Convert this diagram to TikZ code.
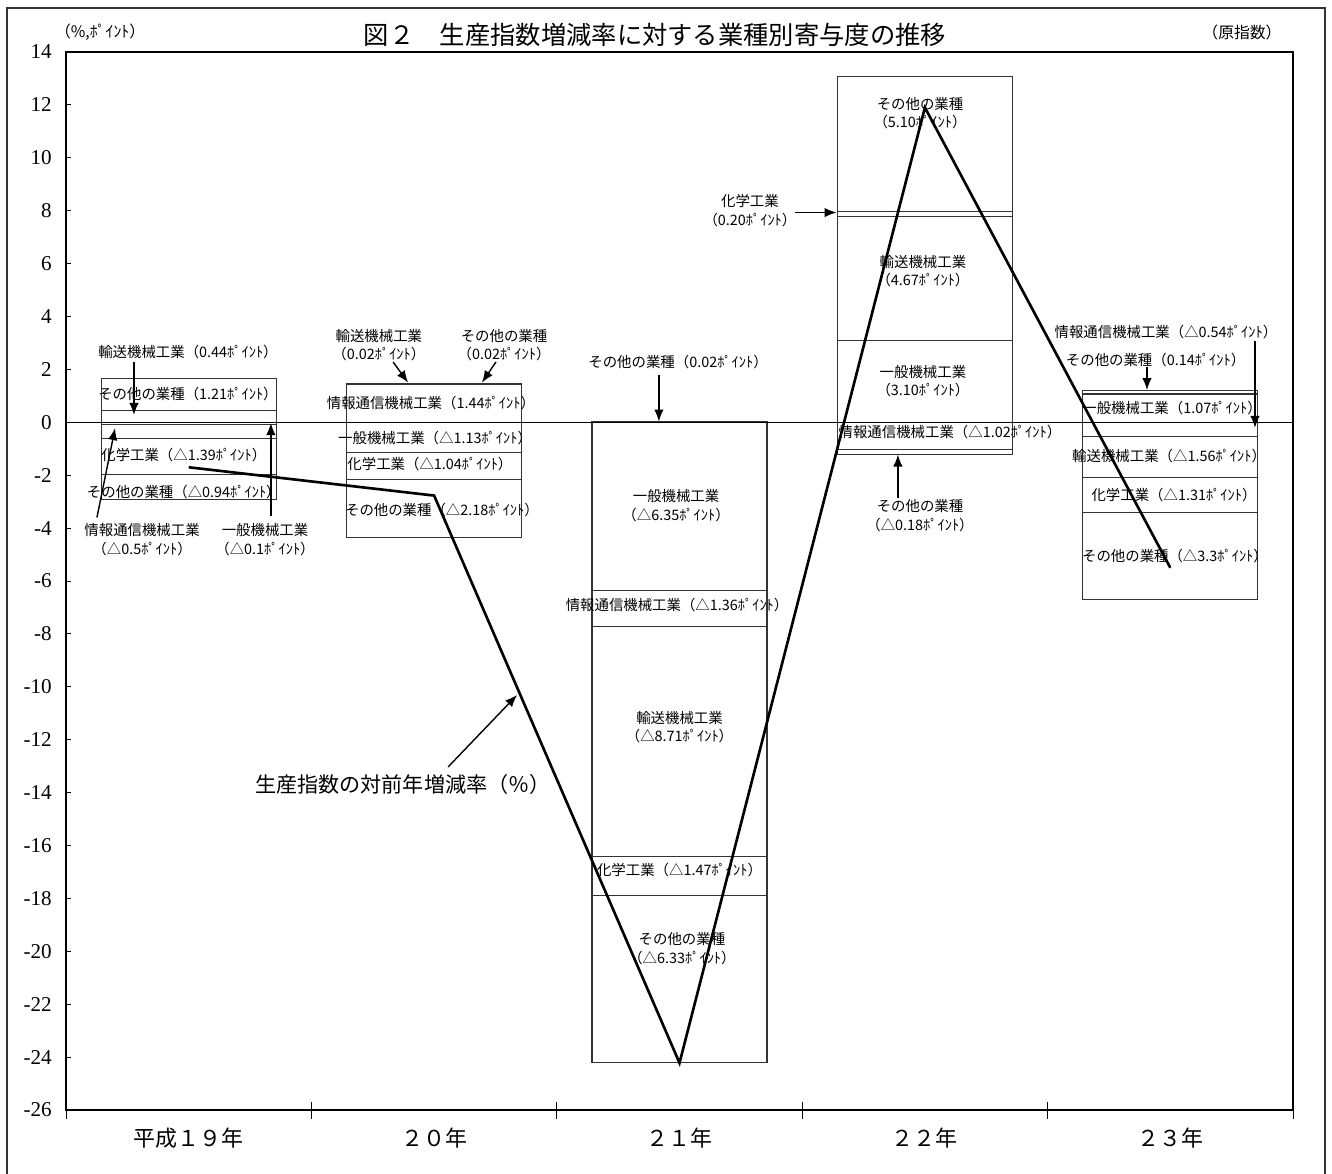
\documentclass[tikz,border=0pt]{standalone}
\usepackage{fontspec}
\setmainfont{Liberation Serif}
\newfontfamily\jp{Noto Sans CJK JP}
\usetikzlibrary{arrows.meta, positioning}

\begin{document}
\begin{tikzpicture}[x=4.908cm, y=0.529cm,
		seg/.style={draw=black!80, fill=white, line width=0.6pt},
		lbl/.style={font=\jp\fontsize{8.2}{10.6}\selectfont, align=center, inner sep=0pt},
		arr/.style={-{Latex[length=2.4mm,width=1.9mm]}, line width=0.8pt},
		series/.style={line width=1.5pt, line join=miter}]
				\useasboundingbox (-0.26895,-28.382) rectangle (5.1589,15.966);
				\draw[line width=0.8pt, black!80] (-0.2404,-28.6) |- (5.1304,15.664) -- (5.1304,-28.6);

				% bars
				\foreach \a/\b in {0/0.44, 0.44/1.65, 0/-0.1, -0.1/-0.6, -0.6/-1.99, -1.99/-2.93}
					\draw[seg] (0.1434,\a) rectangle (0.8566,\b);
				\foreach \a/\b in {0/1.44, 1.44/1.46, 1.46/1.48, 0/-1.13, -1.13/-2.17, -2.17/-4.35}
					\draw[seg] (1.1434,\a) rectangle (1.8566,\b);
				\foreach \a/\b in {0/0.02, 0/-6.35, -6.35/-7.71, -7.71/-16.42, -16.42/-17.89, -17.89/-24.22}
					\draw[seg] (2.1434,\a) rectangle (2.8566,\b);
				\foreach \a/\b in {0/3.10, 3.10/7.77, 7.77/7.97, 7.97/13.07, 0/-1.02, -1.02/-1.20}
					\draw[seg] (3.1434,\a) rectangle (3.8566,\b);
				\foreach \a/\b in {0/1.07, 1.07/1.21, 0/-0.54, -0.54/-2.10, -2.10/-3.41, -3.41/-6.71}
					\draw[seg] (4.1434,\a) rectangle (4.8566,\b);

				\draw[line width=0.6pt] (0,0) -- (5,0);
				\draw[line width=1.6pt] (0,-26) rectangle (5,14);
				\foreach \v in {14,12,...,-26} {
					\draw[line width=0.5pt] (0,\v) -- ++(0.02,0);
					\node[anchor=east, inner sep=0pt, font=\rmfamily\fontsize{12}{14}\selectfont] (y\v) at (-0.057,\v) {\v};
				}
				\foreach \i in {0,...,5}
					\draw[line width=0.5pt] (\i,-25.7) -- (\i,-26.35);
				\foreach \i/\t in {1/平成１９年, 2/２０年, 3/２１年, 4/２２年, 5/２３年}
					\node[font=\jp\fontsize{12.5}{14}\selectfont, inner sep=0pt] (yr\i) at (\i-0.5,-27.06) {\t};

				\node[font=\jp\fontsize{14.4}{16}\selectfont, inner sep=0pt] (t) at (2.40,14.64) {図２　生産指数増減率に対する業種別寄与度の推移};
				\node[font=\jp\fontsize{9}{11}\selectfont, inner sep=0pt] (u) at (0.139,14.76) {（\%,ﾎﾟｲﾝﾄ）};
				\node[font=\jp\fontsize{9}{11}\selectfont, inner sep=0pt] (g) at (4.792,14.72) {（原指数）};

				% 平成19年
				\node[lbl] (a1) at (0.497,1.07) {その他の業種（1.21ﾎﾟｲﾝﾄ）};
				\node[lbl] (a2) at (0.48,-1.25) {化学工業（△1.39ﾎﾟｲﾝﾄ）};
				\node[lbl] (a3) at (0.48,-2.64) {その他の業種（△0.94ﾎﾟｲﾝﾄ）};
				\node[lbl] (a4) at (0.497,2.66) {輸送機械工業（0.44ﾎﾟｲﾝﾄ）};
				\node[lbl] (a5) at (0.31,-4.43) {情報通信機械工業\\（△0.5ﾎﾟｲﾝﾄ）};
				\node[lbl] (a6) at (0.811,-4.43) {一般機械工業\\（△0.1ﾎﾟｲﾝﾄ）};
				\coordinate (a4s) at (0.277,2.28);  \coordinate (a4e) at (0.277,0.28);
				\coordinate (a5s) at (0.126,-3.60); \coordinate (a5e) at (0.20,-0.22);
				\coordinate (a6s) at (0.835,-3.54); \coordinate (a6e) at (0.835,-0.03);
				\draw[arr] (a4s) -- (a4e);
				\draw[arr] (a5s) -- (a5e);
				\draw[arr] (a6s) -- (a6e);

				% 20年
				\node[lbl] (b1) at (1.487,0.73) {情報通信機械工業（1.44ﾎﾟｲﾝﾄ）};
				\node[lbl] (b2) at (1.504,-0.60) {一般機械工業（△1.13ﾎﾟｲﾝﾄ）};
				\node[lbl] (b3) at (1.483,-1.58) {化学工業（△1.04ﾎﾟｲﾝﾄ）};
				\node[lbl] (b4) at (1.532,-3.32) {その他の業種（△2.18ﾎﾟｲﾝﾄ）};
				\node[lbl] (b5) at (1.275,2.92) {輸送機械工業\\（0.02ﾎﾟｲﾝﾄ）};
				\node[lbl] (b6) at (1.785,2.92) {その他の業種\\（0.02ﾎﾟｲﾝﾄ）};
				\coordinate (b5s) at (1.333,2.28); \coordinate (b5e) at (1.394,1.50);
				\coordinate (b6s) at (1.752,2.28); \coordinate (b6e) at (1.695,1.50);
				\draw[arr] (b5s) -- (b5e);
				\draw[arr] (b6s) -- (b6e);

				% 21年
				\node[lbl] (c1) at (2.494,2.28) {その他の業種（0.02ﾎﾟｲﾝﾄ）};
				\node[lbl] (c2) at (2.486,-3.16) {一般機械工業\\（△6.35ﾎﾟｲﾝﾄ）};
				\node[lbl] (c3) at (2.49,-6.90) {情報通信機械工業（△1.36ﾎﾟｲﾝﾄ）};
				\node[lbl] (c4) at (2.50,-11.52) {輸送機械工業\\（△8.71ﾎﾟｲﾝﾄ）};
				\node[lbl] (c5) at (2.50,-16.93) {化学工業（△1.47ﾎﾟｲﾝﾄ）};
				\node[lbl] (c6) at (2.51,-19.9) {その他の業種\\（△6.33ﾎﾟｲﾝﾄ）};
				\coordinate (c1s) at (2.416,1.79); \coordinate (c1e) at (2.416,0.03);
				\draw[arr] (c1s) -- (c1e);

				% 22年
				\node[lbl] (d1) at (3.48,11.69) {その他の業種\\（5.10ﾎﾟｲﾝﾄ）};
				\node[lbl] (d2) at (2.787,8.0) {化学工業\\（0.20ﾎﾟｲﾝﾄ）};
				\node[lbl] (d3) at (3.492,5.72) {輸送機械工業\\（4.67ﾎﾟｲﾝﾄ）};
				\node[lbl] (d4) at (3.492,1.56) {一般機械工業\\（3.10ﾎﾟｲﾝﾄ）};
				\node[lbl] (d5) at (3.602,-0.37) {情報通信機械工業（△1.02ﾎﾟｲﾝﾄ）};
				\node[lbl] (d6) at (3.48,-3.54) {その他の業種\\（△0.18ﾎﾟｲﾝﾄ）};
				\coordinate (d2s) at (2.971,7.93); \coordinate (d2e) at (3.14,7.93);
				\coordinate (d6s) at (3.390,-2.86); \coordinate (d6e) at (3.390,-1.22);
				\draw[arr] (d2s) -- (d2e);
				\draw[arr] (d6s) -- (d6e);

				% 23年
				\node[lbl] (e1) at (4.482,3.42) {情報通信機械工業（△0.54ﾎﾟｲﾝﾄ）};
				\node[lbl] (e2) at (4.44,2.36) {その他の業種（0.14ﾎﾟｲﾝﾄ）};
				\node[lbl] (e3) at (4.507,0.54) {一般機械工業（1.07ﾎﾟｲﾝﾄ）};
				\node[lbl] (e4) at (4.495,-1.27) {輸送機械工業（△1.56ﾎﾟｲﾝﾄ）};
				\node[lbl] (e5) at (4.515,-2.74) {化学工業（△1.31ﾎﾟｲﾝﾄ）};
				\node[lbl] (e6) at (4.519,-5.05) {その他の業種（△3.3ﾎﾟｲﾝﾄ）};
				\coordinate (e1s) at (4.845,3.08); \coordinate (e1e) at (4.845,-0.21);
				\coordinate (e2s) at (4.405,2.09); \coordinate (e2e) at (4.405,1.22);
				\draw[arr] (e1s) -- (e1e);
				\draw[arr] (e2s) -- (e2e);

				% 生産指数
				\coordinate (p1) at (0.5,-1.7);
				\coordinate (p2) at (1.5,-2.77);
				\coordinate (p3) at (2.5,-24.22);
				\coordinate (p4) at (3.5,11.9);
				\coordinate (p5) at (4.5,-5.5);
				\draw[series] (p1) -- (p2) -- (p3) -- (p4) -- (p5);

				\node[font=\jp\fontsize{12}{14}\selectfont, inner sep=0pt] (s) at (1.373,-13.71) {生産指数の対前年増減率（％）};
				\coordinate (ss) at (1.557,-13.03); \coordinate (se) at (1.838,-10.31);
				\draw[arr] (ss) -- (se);
			\end{tikzpicture}
\end{document}
